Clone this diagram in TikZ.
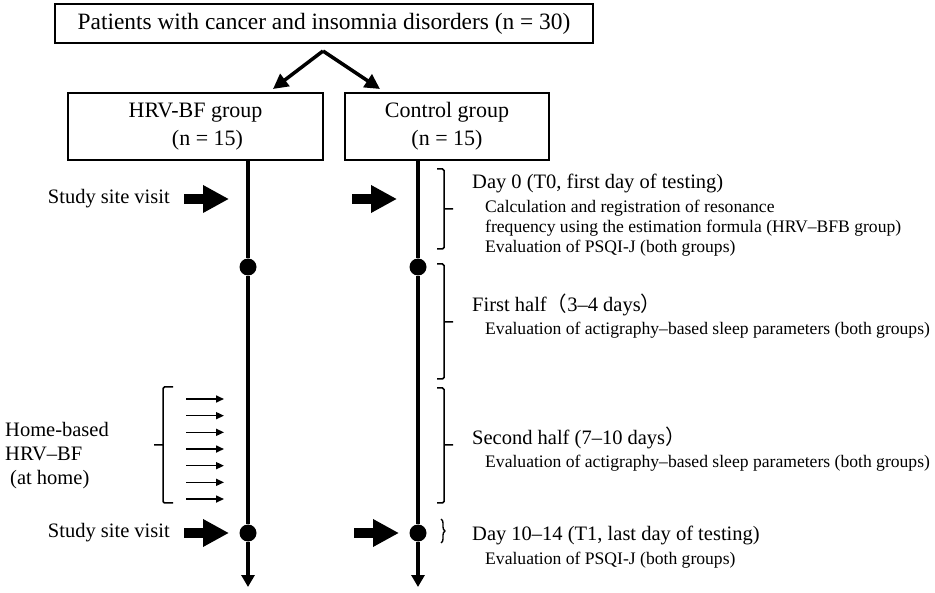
\documentclass[tikz,border=0pt]{standalone}
\usepackage{fontspec}
\setmainfont{Liberation Serif}
\newfontfamily\cjk{Noto Sans CJK JP}
\usetikzlibrary{arrows.meta, decorations.pathreplacing}

\begin{document}
\begin{tikzpicture}[x=1pt, y=-1pt,
  box/.style = {draw, line width=1.2pt, inner sep=0, align=center},
  grp/.style = {box, minimum height=67, font=\fontsize{22}{28}\selectfont},
  lbl/.style = {inner sep=0, font=\fontsize{20.5}{24}\selectfont},
  sub/.style = {inner sep=0, align=left, font=\fontsize{17.6}{20}\selectfont},
  dot/.style = {circle, fill, inner sep=0, minimum size=17},
  timeline/.style = {line width=4.5pt, -{Triangle[length=12pt, width=13pt]}},
  split/.style = {line width=3.5pt, -{Triangle[length=15pt, width=15pt]}},
  fat/.style = {line width=10pt, -{Triangle[length=26pt, width=26pt]}},
  thin/.style = {line width=1.6pt, -{Triangle[length=8pt, width=7pt]}},
  bracket/.style = {line width=1.5pt, rounded corners=1.5pt}]
\useasboundingbox (0,0) rectangle (935,593);

% boxes
\node[box, minimum width=538, minimum height=39, font=\fontsize{23.4}{28}\selectfont]
  (all) at (324,23.5) {Patients with cancer and insomnia disorders (n = 30)};
\node[grp, minimum width=255] (hrv) at (195.5,126.5) {HRV-BF group\\\hspace*{24pt}(n = 15)};
\node[grp, minimum width=204] (ctrl) at (447,126.5) {Control group\\(n = 15)};

\coordinate (fork) at (323,51);
\coordinate (toHrv) at (273,89);
\coordinate (toCtrl) at (380,89);
\draw[split] (fork) -- (toHrv);
\draw[split] (fork) -- (toCtrl);

% time lines
\node[dot] (hdot1) at (248,267) {};
\node[dot] (hdot2) at (248,533) {};
\coordinate (hend) at (248,587);
\node[dot] (cdot1) at (418,267) {};
\node[dot] (cdot2) at (418,533) {};
\coordinate (cend) at (418,587);
\draw[timeline] (hdot1 |- hrv.south) -- (hdot1) -- (hdot2) -- (hend);
\draw[timeline] (cdot1 |- ctrl.south) -- (cdot1) -- (cdot2) -- (cend);

% site visits
\node[lbl, anchor=east] (visit1) at (170,199) {Study site visit};
\node[lbl, anchor=east] (visit2) at (170,533) {Study site visit};
\draw[fat] ([xshift=14]visit1.east) -- ++(45,0);
\draw[fat] ([xshift=14]visit2.east) -- ++(45,0);
\coordinate (cvisit1) at (352,199);
\coordinate (cvisit2) at (354,533);
\draw[fat] (cvisit1) -- ++(45,0);
\draw[fat] (cvisit2) -- ++(45,0);

% home practice
\node[lbl, anchor=west, align=left] (home) at (5,456)
  {Home-based\\HRV--BF\\\hspace{5pt}(at home)};
\draw[bracket] (173,387) -- (163,387) -- (163,503) -- (173,503) (163,445) -- (154,445);
\foreach \i in {0,...,6}
  \draw[thin] (186,399+\i*16.67) -- (224,399+\i*16.67);

% periods
\foreach \t/\m/\b in {169/209/249, 264/322/379, 388/445/503}
  \draw[bracket] (437,\t) -- (444,\t) -- (444,\b) -- (437,\b) (444,\m) -- (453,\m);
\draw[line width=1.4pt, decorate, decoration={brace, amplitude=4pt}] (441,519) -- (441,543);

\node[lbl, anchor=west] (day0) at (472,183) {Day 0 (T0, first day of testing)};
\node[sub, anchor=west] (day0sub) at (485,228)
  {Calculation and registration of resonance\\
   frequency using the estimation formula (HRV--BFB group)\\
   Evaluation of PSQI-J (both groups)};
\node[lbl, anchor=west] (first) at (472,305) {First half{\cjk（}3--4 days{\cjk）}};
\node[sub, anchor=west] (firstsub) at (485,330)
  {Evaluation of actigraphy--based sleep parameters (both groups)};
\node[lbl, anchor=west] (second) at (472,438) {Second half (7--10 days{\cjk）}};
\node[sub, anchor=west] (secondsub) at (485,463)
  {Evaluation of actigraphy--based sleep parameters (both groups)};
\node[lbl, anchor=west] (day1) at (472,535) {Day 10--14 (T1, last day of testing)};
\node[sub, anchor=west] (day1sub) at (485,560) {Evaluation of PSQI-J (both groups)};
\end{tikzpicture}
\end{document}
